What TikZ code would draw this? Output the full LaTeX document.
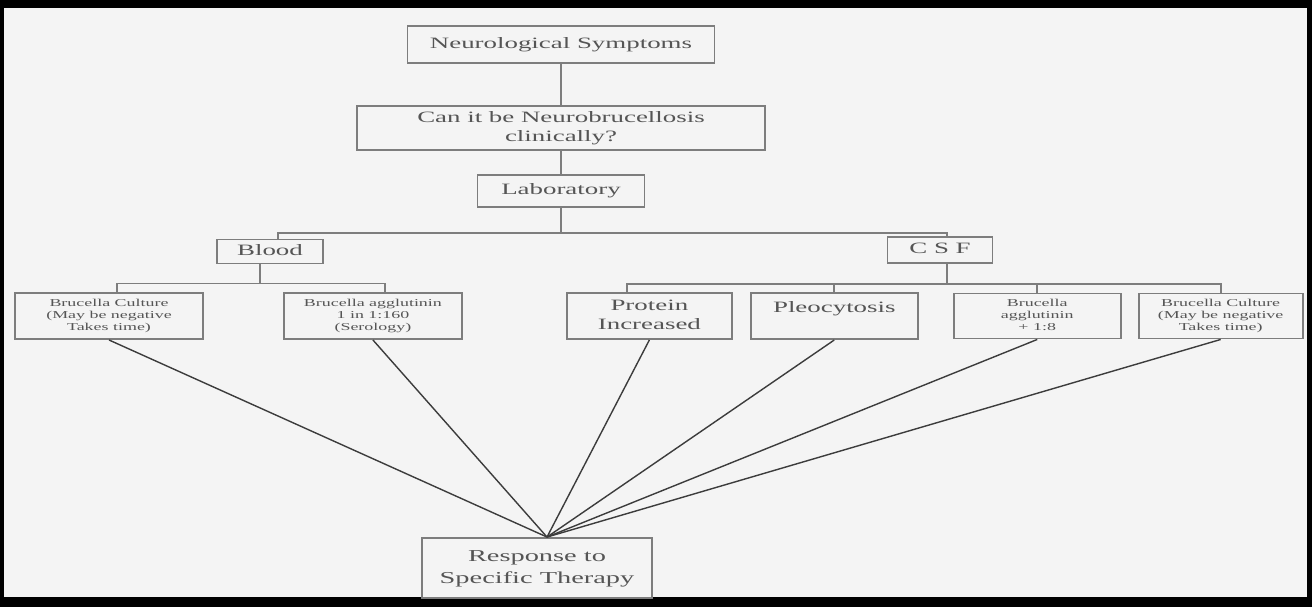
\documentclass[tikz,border=0pt]{standalone}
\usepackage{fontspec}
\setmainfont{Liberation Serif}
\usepackage{graphicx}
\usetikzlibrary{positioning}
\definecolor{paper}{RGB}{244,244,244}
\definecolor{boxline}{RGB}{125,125,125}
\definecolor{boxtext}{RGB}{85,85,85}
\definecolor{fanline}{RGB}{60,60,60}
% wide text, as in the scanned chart
\newcommand{\wt}[1]{\scalebox{1.7}[1]{\begin{tabular}{@{}c@{}}#1\end{tabular}}}
\begin{document}
\begin{tikzpicture}[
    step box/.style={rectangle, draw=boxline, line width=1.1pt, text=boxtext, align=center, inner sep=1pt, font=\fontsize{9}{10.8}\selectfont},
    test box/.style={step box, minimum width=3.3cm, minimum height=0.92cm},
    small box/.style={test box, font=\fontsize{6}{7.1}\selectfont},
    link/.style={draw=boxline, line width=1.1pt},
    fan/.style={draw=fanline, line width=0.8pt}
]

% frame and paper
\fill[black] (0,0) rectangle (26.24,-12.14);
\fill[paper] (0.08,-0.16) rectangle (26.14,-11.94);

% top chain
\node[step box, minimum width=6.14cm, minimum height=0.74cm] (Neuro) at (11.22,-0.89) {\wt{Neurological Symptoms}};
\node[step box, below=0.82cm of Neuro, minimum width=8.16cm, minimum height=0.88cm] (Clinic) {\wt{Can it be Neurobrucellosis\\clinically?}};
\node[step box, below=0.46cm of Clinic, minimum width=3.34cm, minimum height=0.64cm] (Lab) {\wt{Laboratory}};

% blood and csf
\node[step box, minimum width=2.12cm, minimum height=0.48cm] (Blood) at (5.4,-5.03) {\wt{Blood}};
\node[step box, minimum width=2.1cm, minimum height=0.52cm] (CSF) at (18.8,-5.0) {\wt{C S F}};

% tests
\node[small box, minimum width=3.76cm] (BCult1) at (2.18,-6.32) {\wt{Brucella Culture\\(May be negative\\Takes time)}};
\node[small box, right=1.58cm of BCult1, minimum width=3.56cm] (BAgg1) {\wt{Brucella agglutinin\\1 in 1:160\\(Serology)}};
\node[test box, right=2.06cm of BAgg1] (Protein) {\wt{Protein\\Increased}};
\node[test box, right=0.34cm of Protein, minimum width=3.34cm] (Pleo) {\wt{Pleocytosis\\[0.9em]}};
\node[small box, right=0.68cm of Pleo, minimum width=3.34cm, minimum height=0.9cm] (BAgg2) {\wt{Brucella\\agglutinin\\+ 1:8}};
\node[small box, right=0.32cm of BAgg2, minimum width=3.28cm, minimum height=0.9cm] (BCult2) {\wt{Brucella Culture\\(May be negative\\Takes time)}};

% result
\node[step box, minimum width=4.6cm, minimum height=1.2cm, font=\fontsize{9.5}{12.5}\selectfont] (Resp) at (10.74,-11.36) {\wt{Response to\\Specific Therapy}};

% Connections
\coordinate (labbus) at ([yshift=-0.5cm]Lab.south);
\coordinate (bloodbus) at ([yshift=-0.38cm]Blood.south);
\coordinate (csfbus) at ([yshift=-0.4cm]CSF.south);
\coordinate (apex) at ([xshift=0.2cm]Resp.north);

\draw[link] (Neuro) -- (Clinic);
\draw[link] (Clinic) -- (Lab);
\draw[link] (Lab) -- (labbus);
\draw[link] ([xshift=0.16cm]Blood.north) |- (labbus) -| ([xshift=0.14cm]CSF.north);
\draw[link] ([xshift=-0.2cm]Blood.south) |- (bloodbus);
\draw[link] ([xshift=0.16cm]BCult1.north) |- ([xshift=-0.2cm]bloodbus) -| ([xshift=0.24cm]BAgg1.north);
\draw[link] ([xshift=0.14cm]CSF.south) -- ([xshift=0.14cm]csfbus);
\draw[link] ([xshift=-0.44cm]Protein.north) |- (csfbus) -| (BCult2.north);
\draw[link] (Pleo.north) -- (Pleo.north |- csfbus);
\draw[link] (BAgg2.north) -- (BAgg2.north |- csfbus);

\foreach \t in {BCult1, BAgg1, Protein, Pleo, BAgg2, BCult2}
    \draw[fan] (\t.south) -- (apex);

\end{tikzpicture}
\end{document}
